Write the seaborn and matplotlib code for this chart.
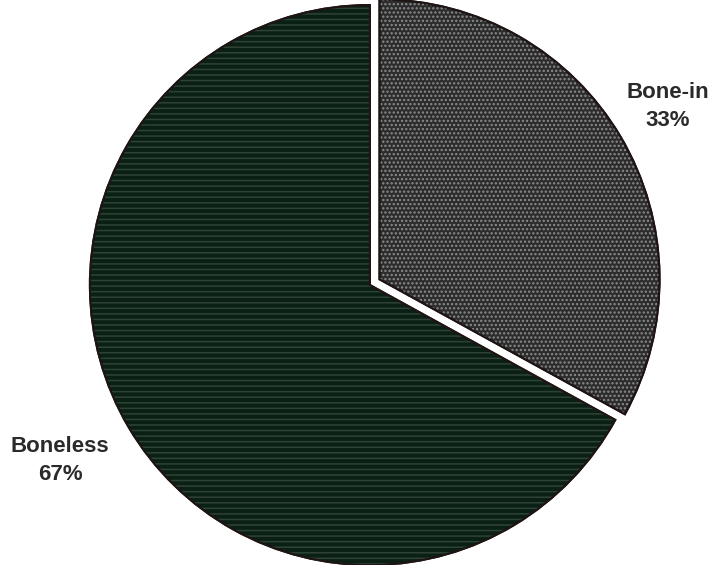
import matplotlib
matplotlib.use("Agg")
import matplotlib.pyplot as plt
import matplotlib.patches as mpatches
import seaborn as sns

# Share of product by cut type
categories = ["Bone-in", "Boneless"]
shares = [33, 67]

sns.set_theme(style="white")
plt.rcParams["font.family"] = ["Liberation Sans", "DejaVu Sans"]
plt.rcParams["hatch.linewidth"] = 1.1

face_colors = ["#2c2c2c", "#0a2014"]
hatch_colors = ["#8c8c8c", "#2f4236"]
hatches = ["....", "---"]
explode = [0.04, 0.0]

fig = plt.figure(figsize=(7.16, 5.65), dpi=100)
ax = fig.add_axes([0, 0, 1, 1])
ax.set_facecolor("white")

labels = [f"{c}\n{v:.0f}%" for c, v in zip(categories, shares)]

wedges, texts = ax.pie(
    shares,
    labels=labels,
    colors=face_colors,
    explode=explode,
    startangle=90,
    counterclock=False,
    labeldistance=1.25,
    radius=1.0,
    wedgeprops=dict(edgecolor="#1e1414", linewidth=1.5),
    textprops=dict(fontsize=16, fontweight="bold", color="#2a2a2a"),
)

# Textured pattern and outline on each slice
for w, hc, h in zip(wedges, hatch_colors, hatches):
    ax.add_patch(mpatches.Wedge(
        w.center, w.r, w.theta1, w.theta2,
        facecolor="none", edgecolor=hc, hatch=h, linewidth=0,
        zorder=w.get_zorder() + 0.1,
    ))
    ax.add_patch(mpatches.Wedge(
        w.center, w.r, w.theta1, w.theta2,
        facecolor="none", edgecolor="#1e1414", linewidth=1.5,
        zorder=w.get_zorder() + 0.2,
    ))

for t in texts:
    t.set_horizontalalignment("center")
    t.set_verticalalignment("center")
    t.set_linespacing(1.45)

# keep the right-hand label inside the canvas
x0, y0 = texts[0].get_position()
texts[0].set_position((x0 - 0.045, y0 - 0.02))
x1, y1 = texts[1].get_position()
texts[1].set_position((x1 - 0.03, y1 + 0.01))

ax.set_aspect("equal")
ax.set_xlim(-1.321, 1.236)
ax.set_ylim(-1.0, 1.018)
ax.axis("off")

fig.savefig("out.png", dpi=100, facecolor="white")
